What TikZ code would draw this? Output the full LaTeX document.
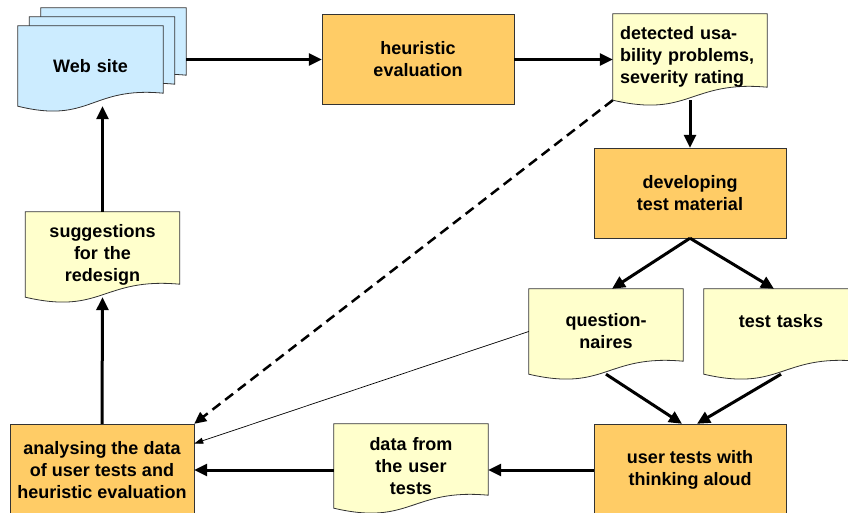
\documentclass[tikz,border=0pt]{standalone}
\usepackage{fontspec}
\setmainfont{Liberation Sans}
\usetikzlibrary{arrows.meta,calc,backgrounds}
\definecolor{boxorange}{HTML}{FFCC66}
\definecolor{docyellow}{HTML}{FFFFCC}
\definecolor{siteblue}{HTML}{CCECFF}
\definecolor{edgegray}{HTML}{333333}
\begin{document}
\begin{tikzpicture}[x=1pt,y=-1pt,
  every node/.style={font=\bfseries\fontsize{18}{22}\selectfont},
  task/.style={draw=edgegray,fill=boxorange,minimum width=192pt,minimum height=90pt,align=center,inner sep=0pt},
  doc/.style={inner xsep=7pt,inner ysep=0pt,text width=140pt,minimum height=85pt,align=center},
  site/.style={doc,text width=131pt,minimum height=80pt},
  flow/.style={line width=3pt,-{Triangle[length=13pt,width=12pt]}}]
\useasboundingbox (0,0) rectangle (848,513);
\node[site] (web3) at (113.5,48) {};
\node[site] (web2) at (102,57) {};
\node[site] (web) at (90.5,66) {Web site};
\node[task] (heur) at (418,59.5) {heuristic\\evaluation};
\node[doc,align=left,minimum height=86pt] (det) at (690,57) {detected usa-\\bility problems,\\severity rating};
\node[task] (dev) at (690,193) {developing\\test material};
\node[doc] (quest) at (606,331.5) {question-\\naires};
\node[doc] (tasks) at (781,331.5) {test tasks\\\phantom{x}};
\node[task,minimum height=92pt] (user) at (690,470) {user tests with\\thinking aloud};
\node[doc,minimum height=84pt] (data) at (411,466) {data from\\the user\\tests};
\node[task,minimum width=184pt,minimum height=92pt] (anal) at (102,470) {analysing the data\\of user tests and\\heuristic evaluation};
\node[doc] (sugg) at (102.5,254.5) {suggestions\\for the\\redesign};
\begin{scope}[on background layer]
\foreach \n/\c in {web3/siteblue,web2/siteblue,web/siteblue,det/docyellow,quest/docyellow,tasks/docyellow,data/docyellow,sugg/docyellow}
  \filldraw[fill=\c,draw=edgegray,line width=0.8pt] (\n.north west) -- (\n.north east) -- ($(\n.south east)+(0,-13)$)
    .. controls ($(\n.south)+(0,-20)$) and ($(\n.south)+(0,18)$) .. (\n.south west) -- cycle;
\end{scope}
\draw[flow] (web3.east |- heur.west) -- (heur.west);
\draw[flow] (heur.east) -- (heur.east -| det.west);
\draw[flow] (det.south) -- (dev.north);
\draw[flow] (dev.south) -- ($(quest.north)+(6,0)$);
\draw[flow] (dev.south) -- ($(tasks.north)+(-7,0)$);
\draw[flow] (quest.south) -- ($(user.north)+(-8,0)$);
\draw[flow] (tasks.south) -- ($(user.north)+(7,0)$);
\draw[flow] (user.west) -- (user.west -| data.east);
\draw[flow] (data.west |- anal.east) -- (anal.east);
\draw[line width=2.5pt,dash pattern=on 10pt off 6pt,-{Triangle[length=12pt,width=11pt]}] (det.south west) -- (anal.north east);
\draw[line width=0.7pt,-{Triangle[length=9pt,width=6pt]}] (quest.west) -- (anal.16);
\draw[flow] (anal.north) -- (sugg.south);
\draw[flow] (sugg.north) -- (sugg.north |- web.south);
\end{tikzpicture}
\end{document}
